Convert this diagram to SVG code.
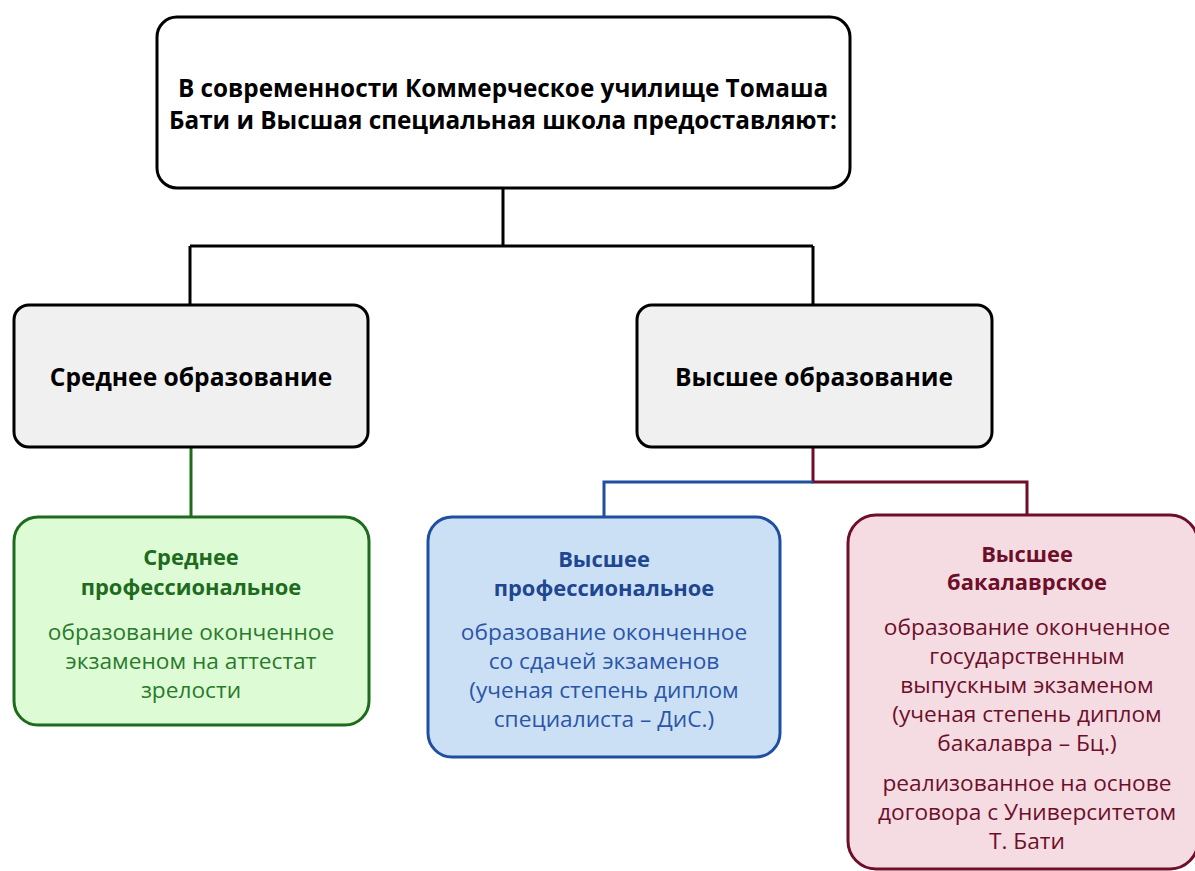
<svg xmlns="http://www.w3.org/2000/svg" width="1195" height="871" viewBox="0 0 1195 871">
<style>
text{font-family:"Open Sans","Noto Sans","Liberation Sans",sans-serif;text-anchor:middle}
.b{font-weight:bold}
.t{font-size:24.3px}
.h{font-size:24.6px}
.sb{font-size:21.9px}
.s{font-size:22.7px}
.con{fill:none;stroke-width:3}
</style>
<rect width="1195" height="871" fill="#ffffff"/>
<g id="connectors">
<path class="con" stroke="#000" d="M503 189V246M190 246H813M190 246V305M813 246V305"/>
<path class="con" stroke="#1e6b1e" d="M191 447V517"/>
<path class="con" stroke="#6e0f2a" d="M813 447V482H1027V515"/>
<path class="con" stroke="#1f4fa0" d="M813 482H604V517"/>
</g>
<g id="top">
<rect x="157" y="17" width="693" height="171" rx="20" fill="#fff" stroke="#000" stroke-width="3"/>
<text class="b t" x="503" y="97">В современности Коммерческое училище Томаша</text>
<text class="b t" x="503" y="129">Бати и Высшая специальная школа предоставляют:</text>
</g>
<g id="secondary">
<rect x="14" y="305" width="354" height="142" rx="15" fill="#f0f0f0" stroke="#000" stroke-width="3"/>
<text class="b h" x="191" y="386">Среднее образование</text>
</g>
<g id="higher">
<rect x="637" y="305" width="355" height="142" rx="15" fill="#f0f0f0" stroke="#000" stroke-width="3"/>
<text class="b h" x="814" y="386">Высшее образование</text>
</g>
<g id="secondary-prof">
<rect x="14" y="517" width="355" height="208" rx="24" fill="#ddfcd6" stroke="#1e6b1e" stroke-width="3"/>
<text class="b sb" x="191" y="565" fill="#1e6b1e">Среднее</text>
<text class="b sb" x="191" y="595" fill="#1e6b1e">профессиональное</text>
<g class="s" fill="#2a7a2a">
<text x="191" y="640">образование оконченное</text>
<text x="191" y="669">экзаменом на аттестат</text>
<text x="191" y="698">зрелости</text>
</g>
</g>
<g id="higher-prof">
<rect x="428" y="517" width="352" height="240" rx="24" fill="#cce0f5" stroke="#1f4fa0" stroke-width="3"/>
<text class="b sb" x="604" y="567" fill="#1f4690">Высшее</text>
<text class="b sb" x="604" y="596" fill="#1f4690">профессиональное</text>
<g class="s" fill="#2a55a8">
<text x="604" y="640">образование оконченное</text>
<text x="604" y="669">со сдачей экзаменов</text>
<text x="604" y="698">(ученая степень диплом</text>
<text x="604" y="727">специалиста – ДиС.)</text>
</g>
</g>
<g id="bachelor">
<rect x="848" y="515" width="350" height="354" rx="28" fill="#f5dce3" stroke="#6e0f2a" stroke-width="3"/>
<text class="b sb" x="1027" y="562" fill="#6e0f2a">Высшее</text>
<text class="b sb" x="1027" y="590" fill="#6e0f2a">бакалаврское</text>
<g class="s" fill="#6e0f2a">
<text x="1027" y="635">образование оконченное</text>
<text x="1027" y="664">государственным</text>
<text x="1027" y="693">выпускным экзаменом</text>
<text x="1027" y="722">(ученая степень диплом</text>
<text x="1027" y="751">бакалавра – Бц.)</text>
<text x="1027" y="791">реализованное на основе</text>
<text x="1027" y="820">договора с Университетом</text>
<text x="1027" y="849">Т. Бати</text>
</g>
</g>
</svg>
